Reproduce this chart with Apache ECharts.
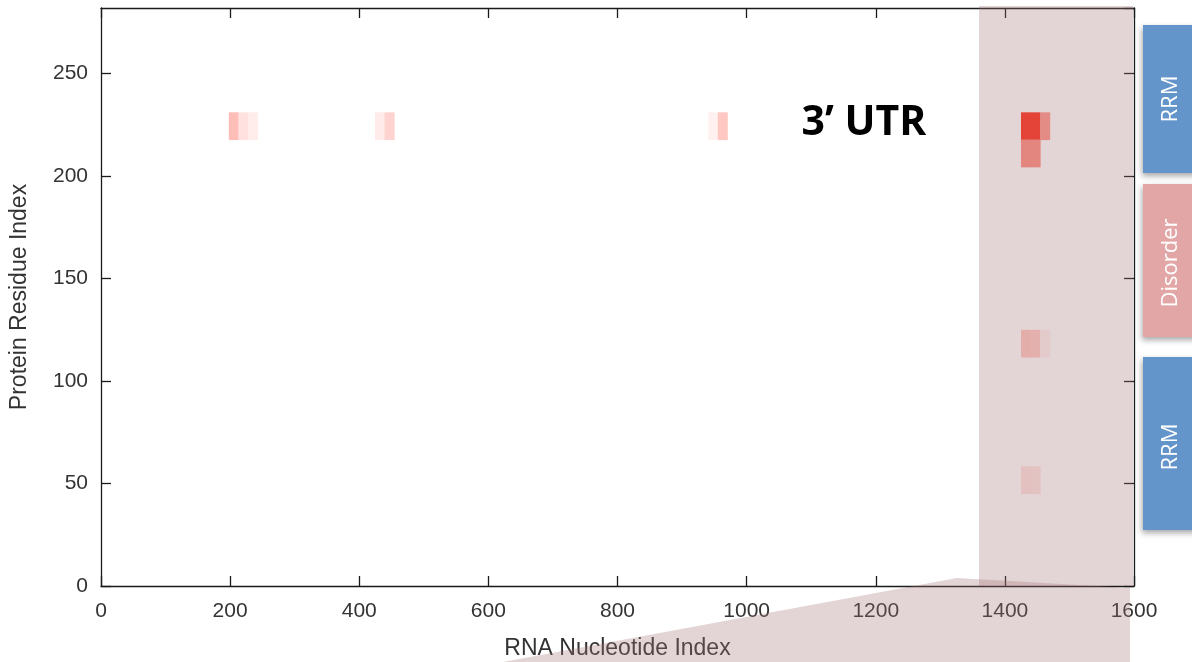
<!DOCTYPE html>
<html>
<head>
<meta charset="utf-8">
<title>Protein–RNA contact map</title>
<script src="https://cdn.jsdelivr.net/npm/echarts@6/dist/echarts.min.js"></script>
<style>
  html, body { margin: 0; padding: 0; background: #fff; }
  #chart { width: 1192px; height: 662px; }
</style>
</head>
<body>
<div id="chart"></div>
<script>
// Contact map bins: nucleotide start, residue start and contact score (0..1)
const binWidthNt = 14.8;
const binHeightRes = 13.3;
const cellNucleotide = [198, 212.8, 227.6, 424.5, 439.3, 940.5, 955.3, 1425, 1439.8, 1454.6,
                        1425, 1439.8,
                        1425, 1439.8, 1454.6,
                        1425, 1439.8];
const cellResidue = [217.8, 217.8, 217.8, 217.8, 217.8, 217.8, 217.8, 217.8, 217.8, 217.8,
                     204.5, 204.5,
                     111.7, 111.7, 111.7,
                     45.1, 45.1];
const cellScore = [0.32, 0.14, 0.09, 0.10, 0.21, 0.07, 0.27, 1.0, 1.0, 0.5,
                   0.54, 0.54,
                   0.27, 0.25, 0.06,
                   0.13, 0.12];

// Axis ranges and ticks
const xTicks = [0, 200, 400, 600, 800, 1000, 1200, 1400, 1600];
const yTicks = [0, 50, 100, 150, 200, 250];
const proteinLength = 282;

// Protein domain annotation strip
const domainNames = ['RRM', 'Disorder', 'RRM'];
const domainColors = ['#6394ca', '#e3a6a6', '#6394ca'];

const cells = cellNucleotide.map((x, i) => [x, cellResidue[i], cellScore[i]]);

// white -> red palette
function heatColor(v) {
  const r = 255;
  const g = Math.round(255 - 205 * v);
  const b = Math.round(255 - 225 * v);
  return 'rgb(' + r + ',' + g + ',' + b + ')';
}

const chart = echarts.init(document.getElementById('chart'), null, { renderer: 'canvas' });

const axisLineStyle = { color: '#1a1a1a', width: 1.3 };
const tickFont = { fontFamily: 'Liberation Sans, Arial, sans-serif', fontSize: 21, color: '#333' };

// domain boxes, top to bottom
const domainBoxes = [
  { y: 25, h: 148, ty: 99 },
  { y: 184, h: 153, ty: 263 },
  { y: 357, h: 173, ty: 447 }
];

const graphics = [];
domainBoxes.forEach((d, i) => {
  graphics.push({
    type: 'rect',
    shape: { x: 1143, y: d.y, width: 70, height: d.h },
    style: {
      fill: domainColors[i],
      shadowBlur: 6,
      shadowColor: 'rgba(0,0,0,0.35)',
      shadowOffsetX: -1,
      shadowOffsetY: 3
    },
    z: 10
  });
  graphics.push({
    type: 'text',
    x: 1171,
    y: d.ty,
    rotation: Math.PI / 2,
    style: {
      text: domainNames[i],
      fill: '#ffffff',
      font: '22px "Open Sans", "Noto Sans", sans-serif',
      textAlign: 'center',
      textVerticalAlign: 'middle'
    },
    z: 11
  });
});

// 3' UTR label
graphics.push({
  type: 'text',
  x: 864,
  y: 123,
  style: {
    text: '3\u2019 UTR',
    fill: '#000000',
    font: 'bold 41px "Open Sans", "Noto Sans", sans-serif',
    textAlign: 'center',
    textVerticalAlign: 'middle'
  },
  z: 20
});

// 3' UTR highlight band and its callout wedge
graphics.push({
  type: 'rect',
  shape: { x: 979, y: 6, width: 154, height: 580 },
  style: { fill: 'rgba(162,112,115,0.3)' },
  z: 100
});
graphics.push({
  type: 'polygon',
  shape: { points: [[503, 662], [957, 578], [1130, 588], [1130, 662]] },
  style: { fill: 'rgba(162,112,115,0.3)' },
  z: 100
});

const plainNumber = v => String(v);

const option = {
  backgroundColor: '#ffffff',
  animation: false,
  grid: { left: 101, right: 58, top: 8, bottom: 76, containLabel: false, outerBoundsMode: 'none' },
  xAxis: [
    {
      type: 'value',
      min: 0, max: 1600, interval: 200,
      name: 'RNA Nucleotide Index',
      nameLocation: 'middle',
      nameGap: 51,
      nameTextStyle: { fontFamily: 'Liberation Sans, Arial, sans-serif', fontSize: 23, color: '#333' },
      axisLine: { show: true, onZero: false, lineStyle: axisLineStyle },
      axisTick: { show: true, inside: true, length: 10, lineStyle: axisLineStyle },
      axisLabel: Object.assign({ margin: 15, formatter: plainNumber }, tickFont),
      splitLine: { show: false }
    },
    {
      type: 'value',
      position: 'top',
      min: 0, max: 1600, interval: 200,
      axisLine: { show: true, onZero: false, lineStyle: axisLineStyle },
      axisTick: { show: true, inside: true, length: 10, lineStyle: axisLineStyle },
      axisLabel: { show: false },
      splitLine: { show: false }
    }
  ],
  yAxis: [
    {
      type: 'value',
      min: 0, max: proteinLength, interval: 50,
      name: 'Protein Residue Index',
      nameLocation: 'middle',
      nameGap: 70,
      nameTextStyle: { fontFamily: 'Liberation Sans, Arial, sans-serif', fontSize: 23, color: '#333' },
      axisLine: { show: true, onZero: false, lineStyle: axisLineStyle },
      axisTick: { show: true, inside: true, length: 10, lineStyle: axisLineStyle },
      axisLabel: Object.assign({
        margin: 13,
        showMaxLabel: false,
        formatter: v => (yTicks.indexOf(v) >= 0 ? String(v) : '')
      }, tickFont),
      splitLine: { show: false }
    },
    {
      type: 'value',
      position: 'right',
      min: 0, max: proteinLength, interval: 50,
      axisLine: { show: true, onZero: false, lineStyle: axisLineStyle },
      axisTick: { show: true, inside: true, length: 10, lineStyle: axisLineStyle },
      axisLabel: { show: false },
      splitLine: { show: false }
    }
  ],
  series: [
    {
      type: 'custom',
      xAxisIndex: 0,
      yAxisIndex: 0,
      data: cells,
      encode: { x: 0, y: 1 },
      renderItem: function (params, api) {
        const x0 = api.value(0);
        const y0 = api.value(1);
        const v = api.value(2);
        const p = api.coord([x0, y0 + binHeightRes]);
        const s = api.size([binWidthNt, binHeightRes]);
        // half-pixel overlap keeps adjacent bins free of hairline seams
        return {
          type: 'rect',
          shape: { x: p[0], y: p[1], width: s[0] + 0.5, height: s[1] + 0.5 },
          style: { fill: heatColor(v) }
        };
      },
      z: 2
    }
  ],
  graphic: graphics
};

chart.setOption(option);
</script>
</body>
</html>
